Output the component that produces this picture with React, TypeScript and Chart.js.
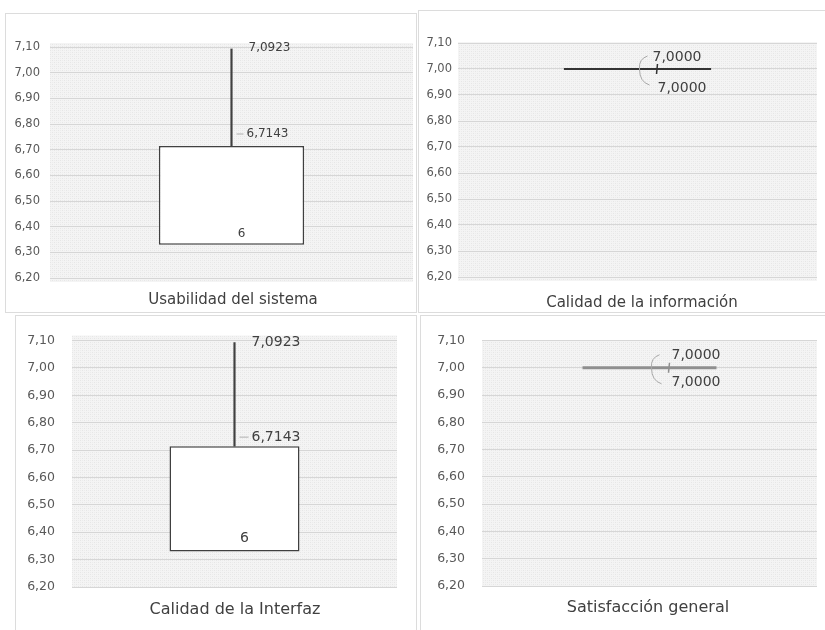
import React, { useEffect, useRef } from 'react';
import { Chart, registerables } from 'chart.js';

Chart.register(...registerables);

// ---- data ----
const categories = ['Usabilidad del sistema', 'Calidad de la información', 'Calidad de la Interfaz', 'Satisfacción general'];
const lowerValues = [6.33, 7.0, 6.33, 7.0];
const upperValues = [6.7143, 7.0, 6.7143, 7.0];
const maxValues = [7.0923, 7.0, 7.0923, 7.0];
const lowerLabels = ['6', '7,0000', '6', '7,0000'];
const upperLabels = ['6,7143', '', '6,7143', ''];
const maxLabels = ['7,0923', '7,0000', '7,0923', '7,0000'];
const yTickValues = [6.2, 6.3, 6.4, 6.5, 6.6, 6.7, 6.8, 6.9, 7.0, 7.1];

// ---- layout / style (page coordinates) ----
type Layout = {
  canvas: [number, number, number, number];
  area: [number, number, number, number];
  ext: [number, number];
  tickPad: number;
  tickSize: number;
  labelSize: number;
  captionSize: number;
  caption: [number, number];
  mode: 'box' | 'line';
  lineColor: string;
  lineWidth: number;
  barPct: number;
  maxOff: [number, number];
  upOff: [number, number];
  lowOff: [number, number];
};

const layouts: Layout[] = [
  { canvas: [6, 14, 409, 298], area: [50, 47, 413, 278], ext: [4, 4], tickPad: 10, tickSize: 11.5, labelSize: 12, captionSize: 15, caption: [233, 300], mode: 'box', lineColor: '#404040', lineWidth: 1.5, barPct: 0.4, maxOff: [17, -1], upOff: [15, -12], lowOff: [10, -11] },
  { canvas: [419, 11, 406, 301], area: [458, 43, 817, 277], ext: [1, 4], tickPad: 6, tickSize: 11.5, labelSize: 14, captionSize: 15, caption: [642, 303], mode: 'line', lineColor: '#333333', lineWidth: 2, barPct: 0.41, maxOff: [15, -12], upOff: [0, 0], lowOff: [20, 19] },
  { canvas: [16, 316, 399, 314], area: [72, 340, 397, 587], ext: [5, 1], tickPad: 17, tickSize: 12.5, labelSize: 14, captionSize: 16, caption: [235, 610], mode: 'box', lineColor: '#404040', lineWidth: 1.5, barPct: 0.4, maxOff: [17, 0], upOff: [17, -9], lowOff: [10, -13] },
  { canvas: [421, 316, 404, 314], area: [482, 337, 817, 586], ext: [0, 0], tickPad: 17, tickSize: 12.5, labelSize: 14, captionSize: 16, caption: [648, 608], mode: 'line', lineColor: '#8f8f8f', lineWidth: 3, barPct: 0.4, maxOff: [22, -12], upOff: [0, 0], lowOff: [22, 15] },
];

const FONT = '"DejaVu Sans", "Liberation Sans", Arial, sans-serif';
const CAPTION_FONT = '"DejaVu Sans", "Liberation Sans", Arial, sans-serif';
const TEXT = '#404040';

function makePattern(ctx: CanvasRenderingContext2D) {
  const c = document.createElement('canvas');
  c.width = 4;
  c.height = 4;
  const p = c.getContext('2d')!;
  p.fillStyle = '#f4f4f4';
  p.fillRect(0, 0, 4, 4);
  p.fillStyle = '#e6e6e6';
  p.fillRect(0, 0, 1, 1);
  p.fillRect(2, 2, 1, 1);
  p.fillStyle = '#ececec';
  p.fillRect(2, 0, 1, 1);
  p.fillRect(0, 2, 1, 1);
  return ctx.createPattern(c, 'repeat')!;
}

function makePlugin(i: number) {
  const L = layouts[i];
  const ox = L.canvas[0];
  const oy = L.canvas[1];
  return {
    id: 'panelDeco' + i,
    beforeDraw(chart: any) {
      const { ctx, chartArea: a } = chart;
      ctx.save();
      ctx.fillStyle = makePattern(ctx);
      ctx.fillRect(a.left, a.top - L.ext[0], a.right - a.left, a.bottom - a.top + L.ext[0] + L.ext[1]);
      ctx.restore();
    },
    afterDatasetsDraw(chart: any) {
      const { ctx } = chart;
      const y = chart.scales.y;
      const el = chart.getDatasetMeta(1).data[0];
      const cx = el.x;
      const w = el.width;
      const yLow = y.getPixelForValue(lowerValues[i]);
      const yUp = y.getPixelForValue(upperValues[i]);
      const yMax = y.getPixelForValue(maxValues[i]);
      ctx.save();
      ctx.fillStyle = TEXT;
      ctx.font = `${L.labelSize}px ${FONT}`;
      ctx.textBaseline = 'middle';
      if (L.mode === 'line') {
        // collapsed box: draw as a line across the bar width
        ctx.strokeStyle = L.lineColor;
        ctx.lineWidth = L.lineWidth;
        ctx.beginPath();
        ctx.moveTo(cx - w / 2, yUp);
        ctx.lineTo(cx + w / 2, yUp);
        ctx.stroke();
        // leaders
        ctx.strokeStyle = '#a8a8a8';
        ctx.lineWidth = 1;
        ctx.beginPath();
        ctx.moveTo(cx + 10, yMax - 13);
        ctx.quadraticCurveTo(cx + 1, yMax - 10, cx + 2, yMax);
        ctx.quadraticCurveTo(cx + 2, yLow + 13, cx + 12, yLow + 16);
        ctx.stroke();
        ctx.strokeStyle = L.lineColor;
        ctx.lineWidth = 1.5;
        ctx.beginPath();
        ctx.moveTo(cx + 20, yMax - 5);
        ctx.lineTo(cx + 19, yMax + 5);
        ctx.stroke();
        ctx.textAlign = 'left';
        ctx.fillText(maxLabels[i], cx + L.maxOff[0], yMax + L.maxOff[1]);
        ctx.fillText(lowerLabels[i], cx + L.lowOff[0], yLow + L.lowOff[1]);
      } else {
        ctx.textAlign = 'left';
        ctx.fillText(maxLabels[i], cx + L.maxOff[0], yMax + L.maxOff[1]);
        ctx.fillText(upperLabels[i], cx + L.upOff[0], yUp + L.upOff[1]);
        ctx.strokeStyle = '#b0b0b0';
        ctx.lineWidth = 1;
        ctx.beginPath();
        ctx.moveTo(cx + 5, yUp + L.upOff[1]);
        ctx.lineTo(cx + L.upOff[0] - 3, yUp + L.upOff[1]);
        ctx.stroke();
        ctx.textAlign = 'center';
        ctx.fillText(lowerLabels[i], cx + L.lowOff[0], yLow + L.lowOff[1]);
      }
      ctx.restore();
    },
    afterDraw(chart: any) {
      const { ctx } = chart;
      ctx.save();
      ctx.fillStyle = TEXT;
      ctx.font = `${L.captionSize}px ${CAPTION_FONT}`;
      ctx.textAlign = 'center';
      ctx.textBaseline = 'middle';
      ctx.fillText(categories[i], L.caption[0] - ox, L.caption[1] - oy);
      ctx.restore();
    },
  };
}

function Panel({ index }: { index: number }) {
  const ref = useRef<HTMLCanvasElement>(null);
  const L = layouts[index];
  useEffect(() => {
    if (!ref.current) return;
    const [cx, cy, cw, ch] = L.canvas;
    const [al, at, ar, ab] = L.area;
    const isLine = L.mode === 'line';
    const chart = new Chart(ref.current, {
      type: 'bar',
      data: {
        labels: [categories[index]],
        datasets: [
          {
            label: 'whisker',
            data: [[upperValues[index], maxValues[index]]] as any,
            backgroundColor: isLine ? 'rgba(0,0,0,0)' : L.lineColor,
            borderWidth: 0,
            barThickness: 1.5,
            grouped: false,
          } as any,
          {
            label: 'box',
            data: [[lowerValues[index], upperValues[index]]] as any,
            backgroundColor: isLine ? 'rgba(0,0,0,0)' : '#ffffff',
            borderColor: isLine ? 'rgba(0,0,0,0)' : L.lineColor,
            borderWidth: isLine ? 0 : 1.5,
            borderSkipped: false,
            barPercentage: L.barPct,
            categoryPercentage: 1,
            grouped: false,
          } as any,
        ],
      },
      options: {
        animation: false,
        responsive: false,
        maintainAspectRatio: false,
        events: [],
        layout: { padding: { left: 0, top: at - cy, right: cx + cw - ar, bottom: cy + ch - ab } },
        plugins: { legend: { display: false }, tooltip: { enabled: false }, title: { display: false } },
        scales: {
          x: { display: false },
          y: {
            min: 6.2,
            max: 7.1,
            afterBuildTicks: (s: any) => {
              s.ticks = yTickValues.map((v) => ({ value: v }));
            },
            afterFit: (s: any) => {
              s.width = al - cx;
            },
            ticks: {
              autoSkip: false,
              padding: L.tickPad,
              color: '#595959',
              font: { size: L.tickSize, family: FONT },
              callback: (v: any) => Number(v).toFixed(2).replace('.', ','),
            },
            grid: { color: '#d6d6d6', drawTicks: false, lineWidth: 1 },
            border: { display: false },
          },
        },
      },
      plugins: [makePlugin(index)],
    });
    return () => chart.destroy();
  }, [index]);
  return (
    <canvas
      ref={ref}
      width={L.canvas[2]}
      height={L.canvas[3]}
      style={{ position: 'absolute', left: L.canvas[0], top: L.canvas[1], width: L.canvas[2], height: L.canvas[3] }}
    />
  );
}

const borders: [number, number, number, number][] = [
  [5, 13, 412, 300],
  [418, 10, 410, 303],
  [15, 315, 402, 320],
  [420, 315, 410, 320],
];

export default function App() {
  return (
    <div style={{ position: 'fixed', left: 0, top: 0, width: 825, height: 630, background: '#ffffff', overflow: 'hidden' }}>
      {borders.map((b, k) => (
        <div
          key={'b' + k}
          style={{ position: 'absolute', left: b[0], top: b[1], width: b[2], height: b[3], border: '1px solid #dcdcdc', boxSizing: 'border-box' }}
        />
      ))}
      {layouts.map((_, k) => (
        <Panel key={k} index={k} />
      ))}
    </div>
  );
}
